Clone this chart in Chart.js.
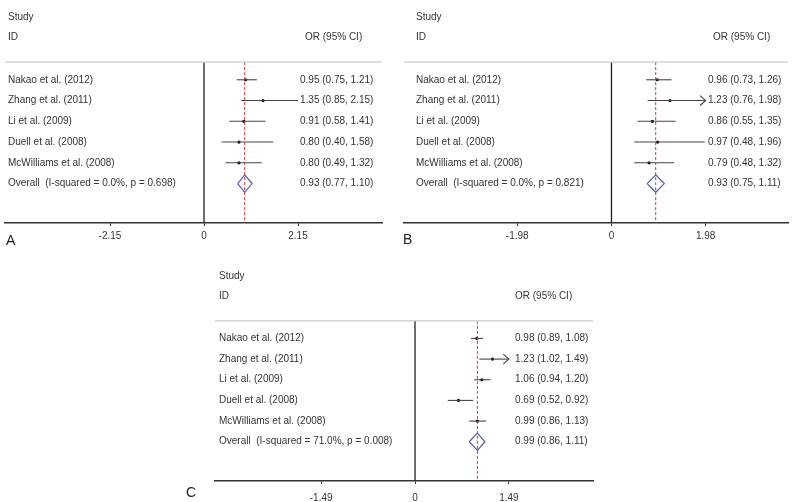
<!DOCTYPE html>
<html><head><meta charset="utf-8">
<script src="https://cdn.jsdelivr.net/npm/chart.js@4/dist/chart.umd.min.js"></script>
<style>
html,body{margin:0;padding:0;background:#fff;width:800px;height:502px;overflow:hidden;}
canvas{position:absolute;}
</style></head><body>
<canvas id="cA" width="400" height="250" style="left:0;top:0"></canvas>
<canvas id="cB" width="400" height="250" style="left:400px;top:0"></canvas>
<canvas id="cC" width="430" height="243" style="left:180px;top:259px"></canvas>
<script>
// ---- data ----
const studies = ["Nakao et al. (2012)", "Zhang et al. (2011)", "Li et al. (2009)", "Duell et al. (2008)", "McWilliams et al. (2008)"];

const orA = [0.95, 1.35, 0.91, 0.80, 0.80];
const loA = [0.75, 0.85, 0.58, 0.40, 0.49];
const hiA = [1.21, 2.15, 1.41, 1.58, 1.32];
const overallA = [0.93, 0.77, 1.10];
const i2A = "0.0%", pA = "0.698";
const tickA = 2.15;
const arrowA = [false, false, false, false, false];

const orB = [0.96, 1.23, 0.86, 0.97, 0.79];
const loB = [0.73, 0.76, 0.55, 0.48, 0.48];
const hiB = [1.26, 1.98, 1.35, 1.96, 1.32];
const overallB = [0.93, 0.75, 1.11];
const i2B = "0.0%", pB = "0.821";
const tickB = 1.98;
const arrowB = [false, true, false, false, false];

const orC = [0.98, 1.23, 1.06, 0.69, 0.99];
const loC = [0.89, 1.02, 0.94, 0.52, 0.86];
const hiC = [1.08, 1.49, 1.20, 0.92, 1.13];
const overallC = [0.99, 0.86, 1.11];
const i2C = "71.0%", pC = "0.008";
const tickC = 1.49;
const arrowC = [false, true, false, false, false];

// ---- layout ----
const Y_MIN = -2.65, Y_MAX = 7.9, Y_HEAD = 0.15;
const FONT = '"Liberation Sans", Arial, sans-serif';

const panels = [
  {id:'cA', letter:'A', or:orA, lo:loA, hi:hiA, ov:overallA, i2:i2A, p:pA, tick:tickA, arrow:arrowA,
   xmin:-4.552, xmax:4.071, pad:{left:5,right:18,top:0,bottom:7}, tickPad:4,
   nameX:8, orX:300, headX:305, letterPos:[6,241]},
  {id:'cB', letter:'B', or:orB, lo:loB, hi:hiB, ov:overallB, i2:i2B, p:pB, tick:tickB, arrow:arrowB,
   xmin:-4.36, xmax:3.71, pad:{left:3,right:12,top:0,bottom:7}, tickPad:4,
   nameX:16, orX:308, headX:313, letterPos:[3,240]},
  {id:'cC', letter:'C', or:orC, lo:loC, hi:hiC, ov:overallC, i2:i2C, p:pC, tick:tickC, arrow:arrowC,
   xmin:-3.175, xmax:2.825, pad:{left:35,right:17,top:0,bottom:1}, tickPad:8,
   nameX:39, orX:335, headX:335, letterPos:[6,234]}
];

function fmt(e, l, h){ return e.toFixed(2) + " (" + l.toFixed(2) + ", " + h.toFixed(2) + ")"; }

panels.forEach(P => {
  const ds = [];
  // header separator
  ds.push({data:[{x:P.xmin,y:Y_HEAD},{x:P.xmax,y:Y_HEAD}], borderColor:'#d4d4d4', borderWidth:1.5, showLine:true, pointRadius:0});
  // null line
  ds.push({data:[{x:0,y:Y_HEAD},{x:0,y:Y_MAX}], borderColor:'#222', borderWidth:1.3, showLine:true, pointRadius:0});
  // overall dashed line
  ds.push({data:[{x:P.ov[0],y:Y_HEAD},{x:P.ov[0],y:Y_MAX}], borderColor:'#d03535', borderWidth:1, borderDash:[3,2], showLine:true, pointRadius:0});
  // CI lines
  P.or.forEach((v,i) => {
    ds.push({data:[{x:P.lo[i],y:i+1},{x:P.hi[i],y:i+1}], borderColor:'#444', borderWidth:1.1, showLine:true, pointRadius:0});
    if (P.arrow[i]) {
      const L = 0.06 * P.tick;
      ds.push({data:[{x:P.hi[i]-L,y:i+1-0.24},{x:P.hi[i],y:i+1},{x:P.hi[i]-L,y:i+1+0.24}], borderColor:'#444', borderWidth:1.1, showLine:true, pointRadius:0, tension:0});
    }
  });
  // point estimates
  ds.push({data:P.or.map((v,i)=>({x:v,y:i+1})), showLine:false, pointRadius:1.6, pointBackgroundColor:'#000', pointBorderWidth:0});
  // diamond
  const r = studies.length + 1;
  ds.push({data:[{x:P.ov[1],y:r},{x:P.ov[0],y:r-0.42},{x:P.ov[2],y:r},{x:P.ov[0],y:r+0.42},{x:P.ov[1],y:r}],
           borderColor:'#4f5cb0', borderWidth:1.2, showLine:true, pointRadius:0, tension:0});

  const textPlugin = {
    id:'forestText',
    afterDraw(chart){
      const ctx = chart.ctx, ys = chart.scales.y;
      ctx.save();
      ctx.fillStyle = '#333';
      ctx.textBaseline = 'middle';
      ctx.textAlign = 'left';
      ctx.font = '10px ' + FONT;
      ctx.fillText('Study', P.nameX, ys.getPixelForValue(-2));
      ctx.fillText('ID', P.nameX, ys.getPixelForValue(-1.05));
      ctx.fillText('OR (95% CI)', P.headX, ys.getPixelForValue(-1.05));
      studies.forEach((s,i) => {
        const y = ys.getPixelForValue(i+1);
        ctx.fillText(s, P.nameX, y);
        ctx.fillText(fmt(P.or[i], P.lo[i], P.hi[i]), P.orX, y);
      });
      const yo = ys.getPixelForValue(studies.length+1);
      ctx.fillText('Overall  (I-squared = ' + P.i2 + ', p = ' + P.p + ')', P.nameX, yo);
      ctx.fillText(fmt(P.ov[0], P.ov[1], P.ov[2]), P.orX, yo);
      ctx.font = '14px ' + FONT;
      ctx.fillStyle = '#222';
      ctx.fillText(P.letter, P.letterPos[0], P.letterPos[1]);
      ctx.restore();
    }
  };

  new Chart(document.getElementById(P.id), {
    type:'scatter',
    data:{datasets:ds},
    options:{
      responsive:false, animation:false, devicePixelRatio:1,
      layout:{padding:P.pad},
      plugins:{legend:{display:false}, tooltip:{enabled:false}},
      elements:{line:{tension:0}},
      scales:{
        x:{type:'linear', min:P.xmin, max:P.xmax, position:'bottom',
           afterBuildTicks:(s)=>{ s.ticks = [-P.tick, 0, P.tick].map(v=>({value:v})); },
           afterFit:(s)=>{ s.height = 20; },
           ticks:{autoSkip:false, maxRotation:0, padding:P.tickPad, color:'#333', font:{size:10, family:FONT},
                  callback:(v)=> v===0 ? '0' : Number(v).toFixed(2)},
           grid:{display:true, drawOnChartArea:false, drawTicks:true, tickLength:3, color:'#333'},
           border:{display:true, color:'#333', width:1.4}},
        y:{type:'linear', min:Y_MIN, max:Y_MAX, reverse:true, display:false}
      }
    },
    plugins:[textPlugin]
  });
});
</script>
</body></html>
